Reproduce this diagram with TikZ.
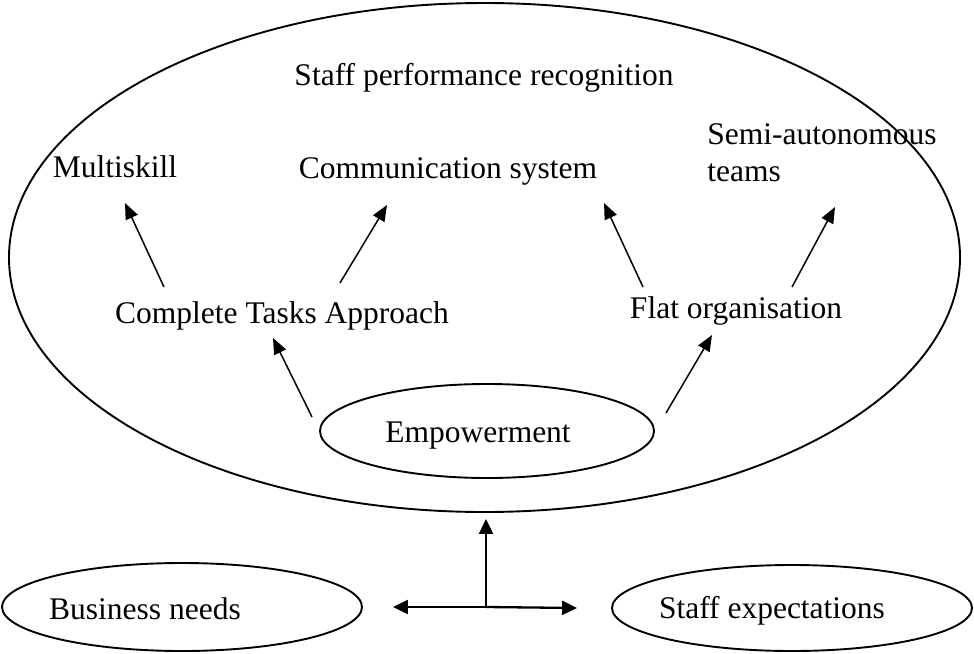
\documentclass[tikz,border=0pt]{standalone}
\usepackage{fontspec}
\setmainfont{Liberation Serif}
\usetikzlibrary{shapes.geometric,arrows.meta}
\begin{document}
\begin{tikzpicture}[x=1pt,y=-1pt,
  lbl/.style={inner sep=0pt,font=\fontsize{31.5}{37}\selectfont},
  oval/.style={draw,ellipse,line width=1.9pt,inner sep=0pt},
  arr/.style={line width=1.5pt,-{Triangle[length=16pt,width=13pt]}},
  barr/.style={line width=2.3pt,-{Triangle[length=15pt,width=14pt]}}]
\useasboundingbox (0,0) rectangle (974,653);
% ellipses
\node[oval,minimum width=951pt,minimum height=509pt] (big) at (484.5,257.5) {};
\node[oval,minimum width=334pt,minimum height=94pt] (emp) at (487,431) {};
\node[oval,minimum width=360pt,minimum height=88pt] (bne) at (182,607) {};
\node[oval,minimum width=360pt,minimum height=86pt] (see) at (792,608) {};
% labels
\node[lbl] (spr) at (484,78) {Staff performance recognition};
\node[lbl] (multi) at (115,167) {Multiskill};
\node[lbl] (comm) at (448,171) {Communication system};
\node[lbl,align=left] (semi) at (822,153) {Semi-autonomous\\teams};
\node[lbl] (cta) at (282,316) {Complete Tasks Approach};
\node[lbl] (flat) at (736,311) {Flat organisation};
\node[lbl] (empt) at (478,436) {Empowerment};
\node[lbl] (bnt) at (145,609) {Business needs};
\node[lbl] (set) at (772,611) {Staff expectations};
% arrows
\draw[arr] ([shift={(-175,-14)}]emp.center) -- ([shift={(-9,22)}]cta.center);
\draw[arr] ([shift={(179,-18)}]emp.center) -- ([shift={(-24,24)}]flat.center);
\draw[arr] ([shift={(-118,-29)}]cta.center) -- ([shift={(10,36)}]multi.center);
\draw[arr] ([shift={(58,-33)}]cta.center) -- ([shift={(-61,34)}]comm.center);
\draw[arr] ([shift={(-93,-24)}]flat.center) -- ([shift={(156,32)}]comm.center);
\draw[arr] ([shift={(56,-24)}]flat.center) -- ([shift={(13,54)}]semi.center);
% bottom connectors
\coordinate (j) at (486,607);
\draw[barr] (j) -- ([shift={(1.5,6)}]big.south);
\draw[barr] (j) -- ([shift={(30,0)}]bne.east);
\draw[barr] (j) -- ([shift={(-34,0)}]see.west);
\end{tikzpicture}
\end{document}
